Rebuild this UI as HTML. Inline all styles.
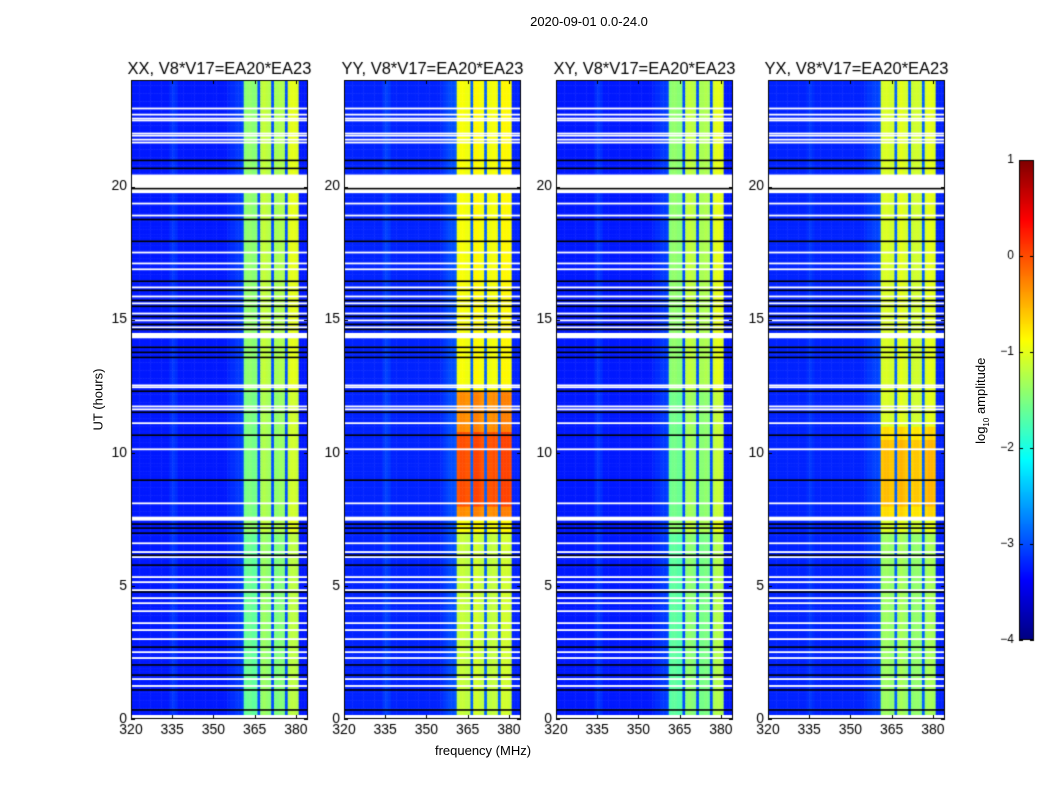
<!DOCTYPE html>
<html><head><meta charset="utf-8">
<style>
body{margin:0;background:#fff;font-family:"Liberation Sans","DejaVu Sans",sans-serif;}
#fig{position:relative;width:1050px;height:800px;background:#fff;overflow:hidden;}
.t{position:absolute;color:#000;white-space:nowrap;}
canvas{position:absolute;}
</style></head><body>
<div id="fig">
<div class="t" style="left:489px;top:14px;width:200px;text-align:center;font-size:13px">2020-09-01 0.0-24.0</div>
<div class="t" style="left:48px;top:392px;width:100px;text-align:center;font-size:13px;transform:rotate(-90deg)">UT (hours)</div>
<div class="t" style="left:383px;top:743px;width:200px;text-align:center;font-size:13px">frequency (MHz)</div>
<div class="t" style="left:922px;top:392px;width:120px;text-align:center;font-size:13px;transform:rotate(-90deg)">log<sub style="font-size:8px">10</sub> amplitude</div>
<canvas id="cv" width="1050" height="800" style="left:0;top:0"></canvas>
</div>
<script>
const titles=["XX, V8*V17=EA20*EA23","YY, V8*V17=EA20*EA23","XY, V8*V17=EA20*EA23","YX, V8*V17=EA20*EA23"];
const xTicks=[320,335,350,365,380];
const yTicks=[0,5,10,15,20];
const cbTicks=[1,0,-1,-2,-3,-4];
// channel log10 amplitudes, 320..383 MHz, 1 MHz channels
const chanXX=[-3.25,-3.25,-3.25,-3.25,-3.25,-3.25,-3.25,-3.25,-3.25,-3.25,-3.25,-3.25,-3.25,-3.25,-3.15,-3.1,-3.15,-3.25,-3.25,-3.25,-3.25,-3.25,-3.25,-3.25,-3.25,-3.25,-3.25,-3.25,-3.25,-3.25,-3.25,-3.25,-3.25,-3.25,-3.25,-3.2,-3.15,-3.15,-3.1,-3.1,-3.05,-1.45,-1.4,-1.4,-1.45,-1.45,-3.0,-1.2,-1.15,-1.2,-1.25,-3.0,-1.3,-1.3,-1.25,-1.3,-3.0,-1.05,-1.0,-1.0,-1.05,-3.25,-3.25,-3.25];
const chanYY=[-3.2,-3.2,-3.2,-3.2,-3.2,-3.2,-3.2,-3.2,-3.2,-3.2,-3.2,-3.2,-3.2,-3.2,-3.1,-3.05,-3.1,-3.2,-3.2,-3.2,-3.2,-3.2,-3.2,-3.2,-3.2,-3.2,-3.2,-3.2,-3.2,-3.2,-3.2,-3.2,-3.2,-3.2,-3.2,-3.15,-3.1,-3.05,-3.0,-3.0,-2.95,-0.95,-0.9,-0.9,-0.95,-0.95,-2.9,-0.85,-0.85,-0.9,-0.95,-2.9,-0.95,-0.95,-0.9,-0.95,-2.9,-0.85,-0.85,-0.85,-0.9,-3.2,-3.2,-3.2];
const chanXY=chanXX;
const chanYX=[-3.2,-3.2,-3.2,-3.2,-3.2,-3.2,-3.2,-3.2,-3.2,-3.2,-3.2,-3.2,-3.2,-3.2,-3.15,-3.1,-3.15,-3.2,-3.2,-3.2,-3.2,-3.2,-3.2,-3.2,-3.2,-3.2,-3.2,-3.2,-3.2,-3.2,-3.2,-3.2,-3.2,-3.2,-3.2,-3.15,-3.1,-3.1,-3.05,-3.05,-3.0,-1.1,-1.05,-1.05,-1.1,-1.1,-2.9,-1.05,-1.0,-1.05,-1.1,-2.9,-1.15,-1.1,-1.1,-1.15,-2.9,-1.05,-1.0,-1.0,-1.05,-3.2,-3.2,-3.2];
// time modifiers [startH,endH,delta] applied to band channels
const modXX=[[7.5,12.3,-0.1],[0,7,-0.2]];
const modYY=[[7.6,12.3,0.6],[8,10.8,0.3],[0,7,-0.25]];
const modXY=[[7.5,12.3,-0.15],[0,7,-0.25]];
const modYX=[[7.6,11,0.35],[8,10.5,0.15],[0,7,-0.3]];
const whiteLines=[22.93,22.70,22.55,22.48,21.99,21.91,21.76,21.65,19.36,18.91,17.52,17.11,16.89,16.21,15.87,15.61,15.23,14.97,14.71,12.53,12.46,11.74,11.63,11.11,10.13,8.10,6.60,6.27,6.08,5.33,5.14,4.84,4.54,4.35,4.05,3.60,3.34,3.00,2.51,2.29,1.50,1.24];
const whiteBlocks=[[19.75,20.45],[14.3,14.5],[7.45,7.6],[0,0.15]];
const blackLines=[20.98,20.68,19.92,18.76,17.94,16.44,16.10,15.72,15.50,15.12,14.82,14.63,13.96,13.77,13.58,12.31,11.52,10.66,8.97,7.32,7.17,6.98,6.15,5.78,4.77,2.70,2.03,1.65,1.09,0.34];

const panelsX=[131,344,556,768];
const PW=177,PT=80,PB=719,fMin=320,fMax=384.4,hMax=24;
const chans=[chanXX,chanYY,chanXY,chanYX];
const mods=[modXX,modYY,modXY,modYX];
const cv=document.getElementById('cv');const ctx=cv.getContext('2d');
function jet(t){t=Math.max(0,Math.min(1,t));
 const r=Math.max(0,Math.min(1,1.5-Math.abs(4*t-3))),g=Math.max(0,Math.min(1,1.5-Math.abs(4*t-2))),b=Math.max(0,Math.min(1,1.5-Math.abs(4*t-1)));
 return `rgb(${r*255|0},${g*255|0},${b*255|0})`;}
function col(v){return jet((v+4)/5);}
function yS(h){return PB-(h/hMax)*(PB-PT);}
function xS(p,f){return panelsX[p]+(f-fMin)/(fMax-fMin)*PW;}
const dh=0.1;
for(let p=0;p<4;p++){
 const ch=chans[p],md=mods[p];
 ctx.save();ctx.beginPath();ctx.rect(panelsX[p],PT,PW,PB-PT);ctx.clip();
 for(let k=0;k<240;k++){const h0=k*dh,h1=h0+dh,hm=h0+dh/2;
  for(let c=0;c<ch.length;c++){let v=ch[c];
   if(v>-2){for(const m of md){if(hm>=m[0]&&hm<m[1])v+=m[2];}}
   ctx.fillStyle=col(v);
   const x0=xS(p,fMin+c),x1=xS(p,fMin+c+1);
   ctx.fillRect(x0,yS(h1),x1-x0+0.5,yS(h0)-yS(h1)+0.5);}}
 ctx.fillStyle='#fff';
 for(const h of whiteLines)ctx.fillRect(panelsX[p],yS(h)-0.9,PW,1.8);
 for(const b of whiteBlocks)ctx.fillRect(panelsX[p],yS(b[1]),PW,yS(b[0])-yS(b[1]));
 ctx.fillStyle='#000';
 for(const h of blackLines)ctx.fillRect(panelsX[p],yS(h)-0.8,PW,1.6);
 ctx.restore();
 ctx.strokeStyle='#000';ctx.lineWidth=1;ctx.strokeRect(panelsX[p]+0.5,PT+0.5,PW-1,PB-PT-1);
 ctx.beginPath();
 for(const f of xTicks){const x=Math.round(xS(p,f))+0.5;ctx.moveTo(x,PB);ctx.lineTo(x,PB-4);ctx.moveTo(x,PT);ctx.lineTo(x,PT+4);}
 for(const h of yTicks){const y=Math.round(yS(h))+0.5;ctx.moveTo(panelsX[p],y);ctx.lineTo(panelsX[p]+4,y);ctx.moveTo(panelsX[p]+PW,y);ctx.lineTo(panelsX[p]+PW-4,y);}
 ctx.stroke();
 ctx.fillStyle='#000';ctx.font='14px "Liberation Sans",sans-serif';ctx.textBaseline='top';ctx.textAlign='center';
 for(const f of xTicks)ctx.fillText(String(f),xS(p,f),723);
 ctx.textAlign='right';ctx.textBaseline='middle';
 for(const h of yTicks)ctx.fillText(String(h),panelsX[p]-4,yS(h));
 ctx.textAlign='center';ctx.textBaseline='alphabetic';ctx.font='16.5px "Liberation Sans",sans-serif';
 ctx.fillText(titles[p],panelsX[p]+PW/2,74);
}
// colorbar
const CX=1019,CW=15,CT=160,CB=640;
for(let y=CT;y<CB;y++){const v=1-(y-CT+0.5)/(CB-CT)*5;ctx.fillStyle=col(v);ctx.fillRect(CX,y,CW,1);}
ctx.strokeStyle='#000';ctx.strokeRect(CX+0.5,CT+0.5,CW-1,CB-CT-1);
ctx.font='12px "Liberation Sans",sans-serif';ctx.textAlign='right';ctx.textBaseline='middle';ctx.fillStyle='#000';
ctx.beginPath();
for(const v of cbTicks){const y=CT+(1-v)/5*(CB-CT);ctx.moveTo(CX,Math.round(y)+0.5);ctx.lineTo(CX+4,Math.round(y)+0.5);ctx.moveTo(CX+CW,Math.round(y)+0.5);ctx.lineTo(CX+CW-4,Math.round(y)+0.5);
 ctx.fillText(v<0?'\u2212'+(-v):String(v),CX-5,y);}
ctx.stroke();
</script>
</body></html>
